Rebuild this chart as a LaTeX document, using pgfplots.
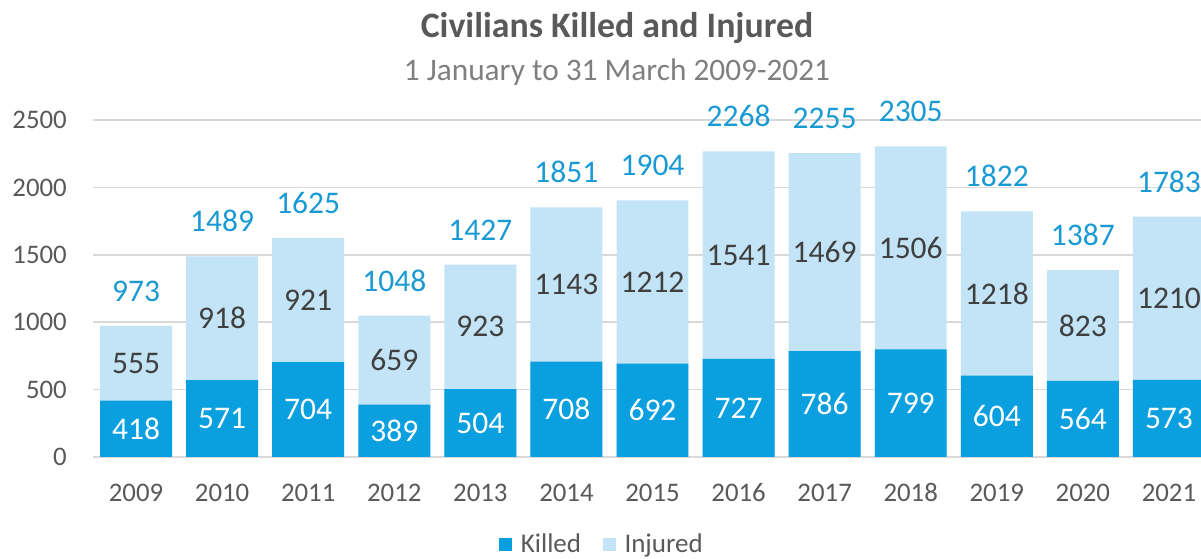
\documentclass[border=0pt]{standalone}
\usepackage{fontspec}
\setmainfont{Carlito}
\usepackage{pgfplots}
\pgfplotsset{compat=1.18}
\usepackage{pgfplotstable}
\definecolor{killed}{HTML}{0A9FDF}
\definecolor{injured}{HTML}{C2E4F6}
\definecolor{totalblue}{HTML}{1A9AD4}
\definecolor{titlegray}{HTML}{595959}
\definecolor{subgray}{HTML}{7F7F7F}
\definecolor{tickgray}{HTML}{595959}
\definecolor{labgray}{HTML}{404040}
\definecolor{gridgray}{HTML}{D9D9D9}
\pgfplotsset{/pgf/number format/.cd, assume math mode=true, 1000 sep={}}
\pgfplotstableread{
idx k i
0 418 555
1 571 918
2 704 921
3 389 659
4 504 923
5 708 1143
6 692 1212
7 727 1541
8 786 1469
9 799 1506
10 604 1218
11 564 823
12 573 1210
}\data
\begin{document}
\begin{tikzpicture}[x=1pt,y=1pt]
\useasboundingbox (0,0) rectangle (1201,559);
\clip (0,0) rectangle (1201,559);
\node[anchor=base, font=\fontsize{35.8}{40}\selectfont\bfseries, text=titlegray, inner sep=0pt] at (617,521) {Civilians Killed and Injured};
\node[anchor=base, font=\fontsize{31.3}{36}\selectfont, text=subgray, inner sep=0pt] at (617,478) {1 January to 31 March 2009-2021};
\begin{axis}[
  at={(93pt,102pt)}, anchor=south west,
  scale only axis, width=1119pt, height=337pt,
  xmin=-0.5, xmax=12.5, ymin=0, ymax=2500,
  axis line style={draw=none}, major tick style={draw=none},
  ytick={0,500,...,2500}, ymajorgrids,
  grid style={draw=gridgray, line width=1.5pt},
  xtick={0,...,12},
  xticklabels={2009,2010,2011,2012,2013,2014,2015,2016,2017,2018,2019,2020,2021},
  tick label style={font=\fontsize{26.8}{30}\selectfont, text=tickgray},
  scaled y ticks=false,
  yticklabel style={anchor=east, inner sep=0pt, xshift=-26pt},
  xticklabel style={anchor=base, inner sep=0pt, yshift=-45pt},
  clip mode=individual,
  legend style={at={(0.455,-0.259)}, anchor=center, draw=none, fill=none,
    legend columns=2, font=\fontsize{27}{31}\selectfont, text=tickgray,
    /tikz/every even column/.append style={column sep=20pt}},
]
\addplot[ybar, bar shift=0pt, bar width=0.836, fill=injured, draw=none, forget plot,
  nodes near coords, point meta=y,
  every node near coord/.style={anchor=base, yshift=24.5pt, inner sep=0pt,
    font=\fontsize{31.5}{36}\selectfont, text=totalblue}]
  table[x=idx, y expr=\thisrow{k}+\thisrow{i}] {\data};
\addplot[ybar, bar shift=0pt, bar width=0.836, fill=killed, draw=none, forget plot]
  table[x=idx, y=k] {\data};
\addplot[only marks, mark=none, forget plot, nodes near coords, point meta=explicit,
  every node near coord/.style={anchor=center, inner sep=0pt,
    font=\fontsize{31.5}{36}\selectfont, text=white}]
  table[x=idx, y expr=\thisrow{k}/2, meta=k] {\data};
\addplot[only marks, mark=none, forget plot, nodes near coords, point meta=explicit,
  every node near coord/.style={anchor=center, inner sep=0pt,
    font=\fontsize{31.5}{36}\selectfont, text=labgray}]
  table[x=idx, y expr=\thisrow{k}+\thisrow{i}/2, meta=i] {\data};
\addlegendimage{legend image code/.code={\fill[killed] (0pt,-6pt) rectangle (12pt,6pt); \path (19pt,0pt);}}
\addlegendentry{Killed}
\addlegendimage{legend image code/.code={\fill[injured] (0pt,-6pt) rectangle (12pt,6pt); \path (19pt,0pt);}}
\addlegendentry{Injured}
\end{axis}
\end{tikzpicture}
\end{document}
